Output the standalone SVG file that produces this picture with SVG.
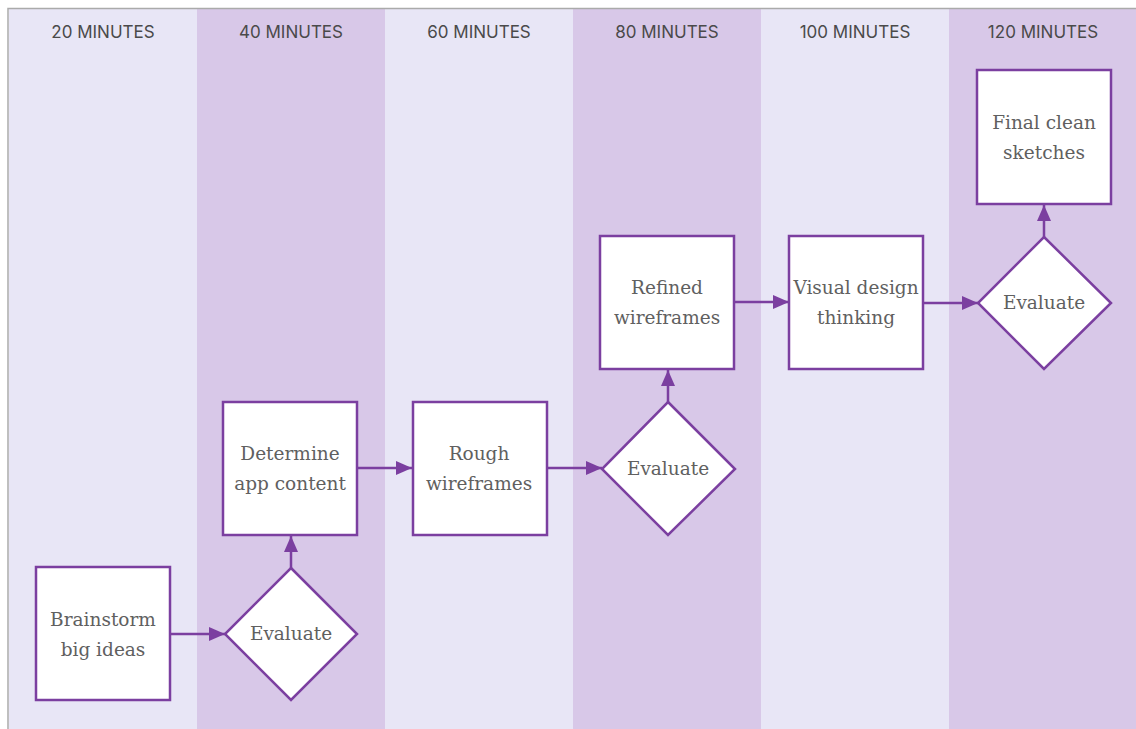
<svg xmlns="http://www.w3.org/2000/svg" width="1136" height="729" viewBox="0 0 1136 729">
<defs>
<style>
.light{fill:#e8e6f6}
.dark{fill:#d8c8e8}
.hdr{font-family:"Inter","Liberation Sans",sans-serif;font-size:17px;fill:#4a4a4a;text-anchor:middle}
.node{fill:#ffffff;stroke:#7b3fa0;stroke-width:2.5}
.lbl{font-family:"DejaVu Serif","Liberation Serif",serif;font-size:18.5px;fill:#606060;text-anchor:middle}
.conn{stroke:#7b3fa0;stroke-width:2.5;fill:none}
</style>
<marker id="arr" viewBox="0 0 16 14" refX="16" refY="7" markerWidth="16" markerHeight="14" markerUnits="userSpaceOnUse" orient="auto">
<path d="M0,0 L16,7 L0,14 Z" fill="#7b3fa0"/>
</marker>
</defs>
<rect x="0" y="0" width="1136" height="729" fill="#ffffff"/>
<g id="columns">
<rect class="light" x="9" y="9" width="188" height="720"/>
<rect class="dark" x="197" y="9" width="188" height="720"/>
<rect class="light" x="385" y="9" width="188" height="720"/>
<rect class="dark" x="573" y="9" width="188" height="720"/>
<rect class="light" x="761" y="9" width="188" height="720"/>
<rect class="dark" x="949" y="9" width="187" height="720"/>
<path d="M8,729 L8,8.5 L1136,8.5" stroke="#aaaaaa" stroke-width="1.5" fill="none"/>
<text class="hdr" x="103" y="38">20 MINUTES</text>
<text class="hdr" x="291" y="38">40 MINUTES</text>
<text class="hdr" x="479" y="38">60 MINUTES</text>
<text class="hdr" x="667" y="38">80 MINUTES</text>
<text class="hdr" x="855" y="38">100 MINUTES</text>
<text class="hdr" x="1043" y="38">120 MINUTES</text>
</g>
<g id="connectors">
<line class="conn" x1="170" y1="634" x2="225" y2="634" marker-end="url(#arr)"/>
<line class="conn" x1="291" y1="568" x2="291" y2="536" marker-end="url(#arr)"/>
<line class="conn" x1="357" y1="468" x2="412" y2="468" marker-end="url(#arr)"/>
<line class="conn" x1="547" y1="468" x2="602" y2="468" marker-end="url(#arr)"/>
<line class="conn" x1="668" y1="402" x2="668" y2="370" marker-end="url(#arr)"/>
<line class="conn" x1="734" y1="302" x2="789" y2="302" marker-end="url(#arr)"/>
<line class="conn" x1="923" y1="303" x2="978" y2="303" marker-end="url(#arr)"/>
<line class="conn" x1="1044" y1="237" x2="1044" y2="205" marker-end="url(#arr)"/>
</g>
<g id="brainstorm">
<rect class="node" x="36" y="567" width="134" height="133"/>
<text class="lbl" x="103" y="626">Brainstorm</text>
<text class="lbl" x="103" y="656">big ideas</text>
</g>
<g id="evaluate1">
<polygon class="node" points="291,568 357,634 291,700 225,634"/>
<text class="lbl" x="291" y="640">Evaluate</text>
</g>
<g id="determine">
<rect class="node" x="223" y="402" width="134" height="133"/>
<text class="lbl" x="290" y="460">Determine</text>
<text class="lbl" x="290" y="490">app content</text>
</g>
<g id="rough">
<rect class="node" x="413" y="402" width="134" height="133"/>
<text class="lbl" x="479" y="460">Rough</text>
<text class="lbl" x="479" y="490">wireframes</text>
</g>
<g id="evaluate2">
<polygon class="node" points="668,402 735,469 668,535 602,469"/>
<text class="lbl" x="668" y="475">Evaluate</text>
</g>
<g id="refined">
<rect class="node" x="600" y="236" width="134" height="133"/>
<text class="lbl" x="667" y="294">Refined</text>
<text class="lbl" x="667" y="324">wireframes</text>
</g>
<g id="visual">
<rect class="node" x="789" y="236" width="134" height="133"/>
<text class="lbl" x="856" y="294">Visual design</text>
<text class="lbl" x="856" y="324">thinking</text>
</g>
<g id="evaluate3">
<polygon class="node" points="1044,237 1111,303 1044,369 978,303"/>
<text class="lbl" x="1044" y="309">Evaluate</text>
</g>
<g id="final">
<rect class="node" x="977" y="70" width="134" height="134"/>
<text class="lbl" x="1044" y="129">Final clean</text>
<text class="lbl" x="1044" y="159">sketches</text>
</g>
</svg>
